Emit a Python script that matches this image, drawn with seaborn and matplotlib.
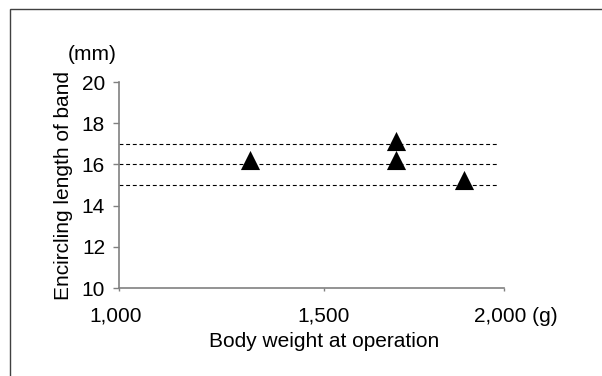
import matplotlib
matplotlib.use("Agg")
import matplotlib.pyplot as plt
import matplotlib.transforms as mtransforms
import seaborn as sns
import pandas as pd
from matplotlib.patches import Rectangle

weights = [1294, 1700, 1700, 1889]
lengths = [16.2, 17.15, 16.2, 15.25]
ref_levels = [15, 16, 17]
x_min, x_max = 931, 2000          # axis origin is labelled "1,000" in the original
xticks = [x_min, 1500, 2000]
xticklabels = ["1,000", "1,500", "2,000 (g)"]
yticks = [10, 12, 14, 16, 18, 20]

sns.set_theme(style="white")
plt.rcParams['font.family'] = ['Liberation Sans', 'DejaVu Sans']
plt.rcParams['text.color'] = 'black'
plt.rcParams['axes.labelcolor'] = 'black'
plt.rcParams['xtick.labelcolor'] = 'black'
plt.rcParams['ytick.labelcolor'] = 'black'

FS = 15

df = pd.DataFrame({"w": weights, "l": lengths})

fig = plt.figure(figsize=(6.02, 3.76), dpi=100)
ax = fig.add_axes([119/602, 1-288/376, (504-119)/602, (288-82)/376])

for lv in ref_levels:
    ax.axhline(lv, xmin=0, xmax=0.982, color="black", lw=0.8, ls=(0, (3.5, 2.5)), zorder=1)

sns.scatterplot(data=df, x="w", y="l", marker="^", s=190, color="black",
                edgecolor="black", linewidth=0, ax=ax, zorder=3)

ax.set_xlim(x_min, x_max)
ax.set_ylim(10, 20)
ax.set_xticks(xticks)
ax.set_xticklabels(xticklabels)
ax.set_yticks(yticks)
for s in ["top", "right"]:
    ax.spines[s].set_visible(False)
for s in ["left", "bottom"]:
    ax.spines[s].set_color("#808080")
    ax.spines[s].set_linewidth(1.2)
ax.tick_params(axis="y", direction="out", length=4, width=1, color="#808080",
               labelsize=FS, pad=6, left=True, labelcolor="black")
ax.tick_params(axis="x", direction="out", length=2.5, width=1, color="#808080",
               labelsize=FS, pad=11, bottom=True, labelcolor="black")

# shift the outer x tick labels as in the original
shifts = [-3, 0, 12]
for lab, dx in zip(ax.get_xticklabels(), shifts):
    lab.set_transform(lab.get_transform() +
                      mtransforms.ScaledTranslation(dx / 100, 0, fig.dpi_scale_trans))

ax.set_xlabel("Body weight at operation", fontsize=FS, color="black")
ax.xaxis.set_label_coords(0.532, -0.215)
ax.set_ylabel("Encircling length of band", fontsize=FS, labelpad=6, color="black")
fig.text(92/602, 1-54/376, "(mm)", fontsize=FS, ha="center", va="center", color="black")

fig.patches.append(Rectangle((9.5/602, -0.1), 1.2, 1 - 8.5/376 + 0.1,
                             transform=fig.transFigure, fill=False,
                             edgecolor="#404040", lw=1.0))

fig.savefig("out.png", dpi=100)
